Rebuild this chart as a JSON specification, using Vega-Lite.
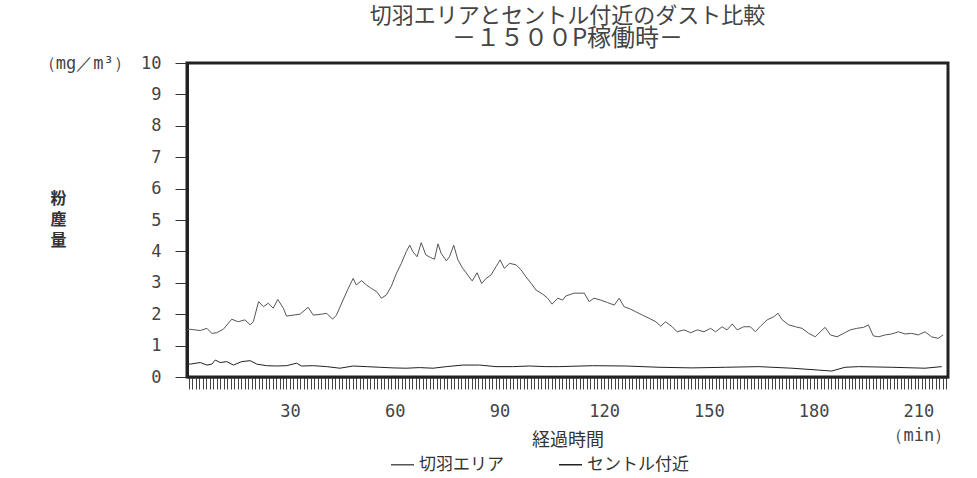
{
  "$schema": "https://vega.github.io/schema/vega-lite/v6.json",
  "width": 761,
  "height": 314,
  "autosize": {"type": "none"},
  "padding": {"left": 187, "top": 63, "right": 29, "bottom": 101},
  "background": "white",
  "title": {
    "text": "切羽エリアとセントル付近のダスト比較",
    "subtitle": "　　　－１５００P稼働時－",
    "anchor": "middle",
    "font": "Noto Sans CJK JP",
    "fontSize": 22,
    "fontWeight": "normal",
    "color": "#444444",
    "subtitleFont": "Noto Sans CJK JP",
    "subtitleFontSize": 24,
    "subtitleColor": "#444444",
    "subtitlePadding": -1,
    "offset": 2
  },
  "data": {
    "values": [
      {"series": "切羽エリア", "t": 0.6, "v": 1.5},
      {"series": "切羽エリア", "t": 1.4, "v": 1.52},
      {"series": "切羽エリア", "t": 4.3, "v": 1.48},
      {"series": "切羽エリア", "t": 6.2, "v": 1.55},
      {"series": "切羽エリア", "t": 7.6, "v": 1.39},
      {"series": "切羽エリア", "t": 9.0, "v": 1.41},
      {"series": "切羽エリア", "t": 10.9, "v": 1.52},
      {"series": "切羽エリア", "t": 13.3, "v": 1.84},
      {"series": "切羽エリア", "t": 15.2, "v": 1.76},
      {"series": "切羽エリア", "t": 17.1, "v": 1.82},
      {"series": "切羽エリア", "t": 18.6, "v": 1.66},
      {"series": "切羽エリア", "t": 19.5, "v": 1.76},
      {"series": "切羽エリア", "t": 21.0, "v": 2.40},
      {"series": "切羽エリア", "t": 22.4, "v": 2.24},
      {"series": "切羽エリア", "t": 23.8, "v": 2.35},
      {"series": "切羽エリア", "t": 25.2, "v": 2.19},
      {"series": "切羽エリア", "t": 26.5, "v": 2.47},
      {"series": "切羽エリア", "t": 28.1, "v": 2.19},
      {"series": "切羽エリア", "t": 29.0, "v": 1.94},
      {"series": "切羽エリア", "t": 30.9, "v": 1.97},
      {"series": "切羽エリア", "t": 32.9, "v": 2.0},
      {"series": "切羽エリア", "t": 35.2, "v": 2.22},
      {"series": "切羽エリア", "t": 36.7, "v": 1.97},
      {"series": "切羽エリア", "t": 39.0, "v": 2.0},
      {"series": "切羽エリア", "t": 40.5, "v": 2.03},
      {"series": "切羽エリア", "t": 42.2, "v": 1.84},
      {"series": "切羽エリア", "t": 43.3, "v": 1.97},
      {"series": "切羽エリア", "t": 45.2, "v": 2.45},
      {"series": "切羽エリア", "t": 46.7, "v": 2.82},
      {"series": "切羽エリア", "t": 48.1, "v": 3.14},
      {"series": "切羽エリア", "t": 49.0, "v": 2.93},
      {"series": "切羽エリア", "t": 50.5, "v": 3.07},
      {"series": "切羽エリア", "t": 51.9, "v": 2.93},
      {"series": "切羽エリア", "t": 53.3, "v": 2.82},
      {"series": "切羽エリア", "t": 54.8, "v": 2.72},
      {"series": "切羽エリア", "t": 56.2, "v": 2.51},
      {"series": "切羽エリア", "t": 57.6, "v": 2.61},
      {"series": "切羽エリア", "t": 59.0, "v": 2.88},
      {"series": "切羽エリア", "t": 60.5, "v": 3.30},
      {"series": "切羽エリア", "t": 61.9, "v": 3.62},
      {"series": "切羽エリア", "t": 63.3, "v": 3.99},
      {"series": "切羽エリア", "t": 64.3, "v": 4.20},
      {"series": "切羽エリア", "t": 65.2, "v": 3.99},
      {"series": "切羽エリア", "t": 66.4, "v": 3.83},
      {"series": "切羽エリア", "t": 67.6, "v": 4.28},
      {"series": "切羽エリア", "t": 68.9, "v": 3.89},
      {"series": "切羽エリア", "t": 70.2, "v": 3.81},
      {"series": "切羽エリア", "t": 71.4, "v": 3.75},
      {"series": "切羽エリア", "t": 72.4, "v": 4.24},
      {"series": "切羽エリア", "t": 73.3, "v": 3.94},
      {"series": "切羽エリア", "t": 74.8, "v": 3.70},
      {"series": "切羽エリア", "t": 75.7, "v": 3.83},
      {"series": "切羽エリア", "t": 76.9, "v": 4.20},
      {"series": "切羽エリア", "t": 78.1, "v": 3.73},
      {"series": "切羽エリア", "t": 79.5, "v": 3.46},
      {"series": "切羽エリア", "t": 80.9, "v": 3.25},
      {"series": "切羽エリア", "t": 82.2, "v": 3.06},
      {"series": "切羽エリア", "t": 83.6, "v": 3.32},
      {"series": "切羽エリア", "t": 84.9, "v": 2.98},
      {"series": "切羽エリア", "t": 86.2, "v": 3.14},
      {"series": "切羽エリア", "t": 87.6, "v": 3.25},
      {"series": "切羽エリア", "t": 89.0, "v": 3.51},
      {"series": "切羽エリア", "t": 90.2, "v": 3.73},
      {"series": "切羽エリア", "t": 91.4, "v": 3.46},
      {"series": "切羽エリア", "t": 92.9, "v": 3.62},
      {"series": "切羽エリア", "t": 94.8, "v": 3.57},
      {"series": "切羽エリア", "t": 96.2, "v": 3.41},
      {"series": "切羽エリア", "t": 97.6, "v": 3.19},
      {"series": "切羽エリア", "t": 99.1, "v": 2.98},
      {"series": "切羽エリア", "t": 100.5, "v": 2.77},
      {"series": "切羽エリア", "t": 102.4, "v": 2.64},
      {"series": "切羽エリア", "t": 103.8, "v": 2.51},
      {"series": "切羽エリア", "t": 105.1, "v": 2.32},
      {"series": "切羽エリア", "t": 106.7, "v": 2.51},
      {"series": "切羽エリア", "t": 108.1, "v": 2.45},
      {"series": "切羽エリア", "t": 109.0, "v": 2.58},
      {"series": "切羽エリア", "t": 111.4, "v": 2.67},
      {"series": "切羽エリア", "t": 114.3, "v": 2.67},
      {"series": "切羽エリア", "t": 115.7, "v": 2.40},
      {"series": "切羽エリア", "t": 117.1, "v": 2.51},
      {"series": "切羽エリア", "t": 119.0, "v": 2.45},
      {"series": "切羽エリア", "t": 121.0, "v": 2.37},
      {"series": "切羽エリア", "t": 122.9, "v": 2.29},
      {"series": "切羽エリア", "t": 124.3, "v": 2.51},
      {"series": "切羽エリア", "t": 125.7, "v": 2.24},
      {"series": "切羽エリア", "t": 127.6, "v": 2.16},
      {"series": "切羽エリア", "t": 129.0, "v": 2.08},
      {"series": "切羽エリア", "t": 131.0, "v": 1.97},
      {"series": "切羽エリア", "t": 132.9, "v": 1.87},
      {"series": "切羽エリア", "t": 134.8, "v": 1.76},
      {"series": "切羽エリア", "t": 136.2, "v": 1.62},
      {"series": "切羽エリア", "t": 137.6, "v": 1.76},
      {"series": "切羽エリア", "t": 139.5, "v": 1.60},
      {"series": "切羽エリア", "t": 140.9, "v": 1.44},
      {"series": "切羽エリア", "t": 142.9, "v": 1.50},
      {"series": "切羽エリア", "t": 144.8, "v": 1.41},
      {"series": "切羽エリア", "t": 146.7, "v": 1.50},
      {"series": "切羽エリア", "t": 148.6, "v": 1.44},
      {"series": "切羽エリア", "t": 150.5, "v": 1.55},
      {"series": "切羽エリア", "t": 151.9, "v": 1.44},
      {"series": "切羽エリア", "t": 153.8, "v": 1.60},
      {"series": "切羽エリア", "t": 155.2, "v": 1.50},
      {"series": "切羽エリア", "t": 156.7, "v": 1.69},
      {"series": "切羽エリア", "t": 158.1, "v": 1.50},
      {"series": "切羽エリア", "t": 160.0, "v": 1.60},
      {"series": "切羽エリア", "t": 161.9, "v": 1.60},
      {"series": "切羽エリア", "t": 163.3, "v": 1.44},
      {"series": "切羽エリア", "t": 164.8, "v": 1.62},
      {"series": "切羽エリア", "t": 166.7, "v": 1.82},
      {"series": "切羽エリア", "t": 168.6, "v": 1.92},
      {"series": "切羽エリア", "t": 169.8, "v": 2.03},
      {"series": "切羽エリア", "t": 171.0, "v": 1.82},
      {"series": "切羽エリア", "t": 172.9, "v": 1.66},
      {"series": "切羽エリア", "t": 174.8, "v": 1.60},
      {"series": "切羽エリア", "t": 176.7, "v": 1.55},
      {"series": "切羽エリア", "t": 178.6, "v": 1.39},
      {"series": "切羽エリア", "t": 180.5, "v": 1.28},
      {"series": "切羽エリア", "t": 181.9, "v": 1.44},
      {"series": "切羽エリア", "t": 183.3, "v": 1.58},
      {"series": "切羽エリア", "t": 184.8, "v": 1.34},
      {"series": "切羽エリア", "t": 186.7, "v": 1.28},
      {"series": "切羽エリア", "t": 188.6, "v": 1.39},
      {"series": "切羽エリア", "t": 190.5, "v": 1.50},
      {"series": "切羽エリア", "t": 192.4, "v": 1.55},
      {"series": "切羽エリア", "t": 194.3, "v": 1.58},
      {"series": "切羽エリア", "t": 195.7, "v": 1.66},
      {"series": "切羽エリア", "t": 197.1, "v": 1.31},
      {"series": "切羽エリア", "t": 198.6, "v": 1.28},
      {"series": "切羽エリア", "t": 200.5, "v": 1.34},
      {"series": "切羽エリア", "t": 202.4, "v": 1.37},
      {"series": "切羽エリア", "t": 204.3, "v": 1.44},
      {"series": "切羽エリア", "t": 206.2, "v": 1.37},
      {"series": "切羽エリア", "t": 208.1, "v": 1.39},
      {"series": "切羽エリア", "t": 210.0, "v": 1.34},
      {"series": "切羽エリア", "t": 211.9, "v": 1.44},
      {"series": "切羽エリア", "t": 213.8, "v": 1.28},
      {"series": "切羽エリア", "t": 215.7, "v": 1.23},
      {"series": "切羽エリア", "t": 217.1, "v": 1.34},
      {"series": "セントル付近", "t": 0.6, "v": 0.42},
      {"series": "セントル付近", "t": 1.4, "v": 0.41},
      {"series": "セントル付近", "t": 4.3, "v": 0.46},
      {"series": "セントル付近", "t": 6.2, "v": 0.38},
      {"series": "セントル付近", "t": 7.6, "v": 0.41},
      {"series": "セントル付近", "t": 8.6, "v": 0.54},
      {"series": "セントル付近", "t": 10.0, "v": 0.46},
      {"series": "セントル付近", "t": 11.9, "v": 0.49},
      {"series": "セントル付近", "t": 13.8, "v": 0.38},
      {"series": "セントル付近", "t": 16.2, "v": 0.49},
      {"series": "セントル付近", "t": 18.6, "v": 0.52},
      {"series": "セントル付近", "t": 20.5, "v": 0.41},
      {"series": "セントル付近", "t": 23.3, "v": 0.36},
      {"series": "セントル付近", "t": 26.2, "v": 0.35},
      {"series": "セントル付近", "t": 29.0, "v": 0.36},
      {"series": "セントル付近", "t": 31.9, "v": 0.44},
      {"series": "セントル付近", "t": 33.3, "v": 0.35},
      {"series": "セントル付近", "t": 36.7, "v": 0.36},
      {"series": "セントル付近", "t": 40.5, "v": 0.33},
      {"series": "セントル付近", "t": 44.3, "v": 0.28},
      {"series": "セントル付近", "t": 48.1, "v": 0.35},
      {"series": "セントル付近", "t": 51.9, "v": 0.33},
      {"series": "セントル付近", "t": 55.7, "v": 0.31},
      {"series": "セントル付近", "t": 59.5, "v": 0.29},
      {"series": "セントル付近", "t": 63.3, "v": 0.28},
      {"series": "セントル付近", "t": 67.1, "v": 0.30},
      {"series": "セントル付近", "t": 71.0, "v": 0.28},
      {"series": "セントル付近", "t": 74.8, "v": 0.33},
      {"series": "セントル付近", "t": 79.5, "v": 0.38},
      {"series": "セントル付近", "t": 84.3, "v": 0.38},
      {"series": "セントル付近", "t": 89.0, "v": 0.33},
      {"series": "セントル付近", "t": 93.8, "v": 0.33},
      {"series": "セントル付近", "t": 98.6, "v": 0.35},
      {"series": "セントル付近", "t": 103.3, "v": 0.33},
      {"series": "セントル付近", "t": 107.1, "v": 0.33},
      {"series": "セントル付近", "t": 116.7, "v": 0.36},
      {"series": "セントル付近", "t": 126.2, "v": 0.35},
      {"series": "セントル付近", "t": 135.7, "v": 0.31},
      {"series": "セントル付近", "t": 145.2, "v": 0.29},
      {"series": "セントル付近", "t": 154.8, "v": 0.31},
      {"series": "セントル付近", "t": 164.3, "v": 0.33},
      {"series": "セントル付近", "t": 173.8, "v": 0.28},
      {"series": "セントル付近", "t": 181.4, "v": 0.22},
      {"series": "セントル付近", "t": 185.2, "v": 0.19},
      {"series": "セントル付近", "t": 189.0, "v": 0.31},
      {"series": "セントル付近", "t": 192.9, "v": 0.33},
      {"series": "セントル付近", "t": 202.4, "v": 0.31},
      {"series": "セントル付近", "t": 211.9, "v": 0.28},
      {"series": "セントル付近", "t": 216.7, "v": 0.33}
    ]
  },
  "mark": {"type": "line", "strokeWidth": 1, "interpolate": "linear"},
  "encoding": {
    "x": {
      "field": "t",
      "type": "quantitative",
      "scale": {"domain": [0.5, 218.5], "nice": false, "zero": false},
      "axis": {
        "tickCount": 218,
        "labelExpr": "datum.value % 30 === 0 ? (datum.value === 210 ? ['210', '（min）'] : datum.label) : ''",
        "labelOverlap": false,
        "labelFlush": false,
        "labelFont": "DejaVu Sans Mono",
        "labelFontSize": 17,
        "labelColor": "#444444",
        "labelPadding": 14,
        "labelLineHeight": 24,
        "tickSize": 12,
        "tickColor": "#444444",
        "tickWidth": 1,
        "domainColor": "#222222",
        "domainWidth": 2,
        "grid": false,
        "title": "経過時間",
        "titleFont": "Noto Sans CJK JP",
        "titleFontSize": 18,
        "titleFontWeight": "normal",
        "titleColor": "#333333",
        "titleY": 63,
        "titleBaseline": "middle"
      }
    },
    "y": {
      "field": "v",
      "type": "quantitative",
      "scale": {"domain": [0, 10], "nice": false},
      "axis": {
        "values": [0, 1, 2, 3, 4, 5, 6, 7, 8, 9, 10],
        "labelExpr": "datum.value === 10 ? '（mg／m³） 10' : datum.label",
        "labelFlush": false,
        "labelFont": "DejaVu Sans Mono",
        "labelFontSize": 17,
        "labelColor": "#444444",
        "labelPadding": 14,
        "tickSize": 12,
        "tickColor": "#333333",
        "domainColor": "#222222",
        "domainWidth": 3,
        "grid": false,
        "title": ["粉", "塵", "量"],
        "titleAngle": 0,
        "titleX": -129,
        "titleY": 135,
        "titleAlign": "center",
        "titleBaseline": "middle",
        "titleFont": "Noto Sans CJK JP",
        "titleFontSize": 16,
        "titleFontWeight": "bold",
        "titleLineHeight": 21,
        "titleColor": "#333333"
      }
    },
    "color": {
      "field": "series",
      "type": "nominal",
      "scale": {"domain": ["切羽エリア", "セントル付近"], "range": ["#555555", "#222222"]},
      "legend": {
        "orient": "none",
        "legendX": 203,
        "legendY": 389,
        "direction": "horizontal",
        "title": null,
        "symbolType": "stroke",
        "symbolSize": 529,
        "symbolStrokeWidth": 1.5,
        "labelFont": "Noto Sans CJK JP",
        "labelFontSize": 17,
        "labelColor": "#333333",
        "labelOffset": 4,
        "columnPadding": 52
      }
    }
  },
  "config": {
    "view": {"stroke": "#222222", "strokeWidth": 3}
  }
}
